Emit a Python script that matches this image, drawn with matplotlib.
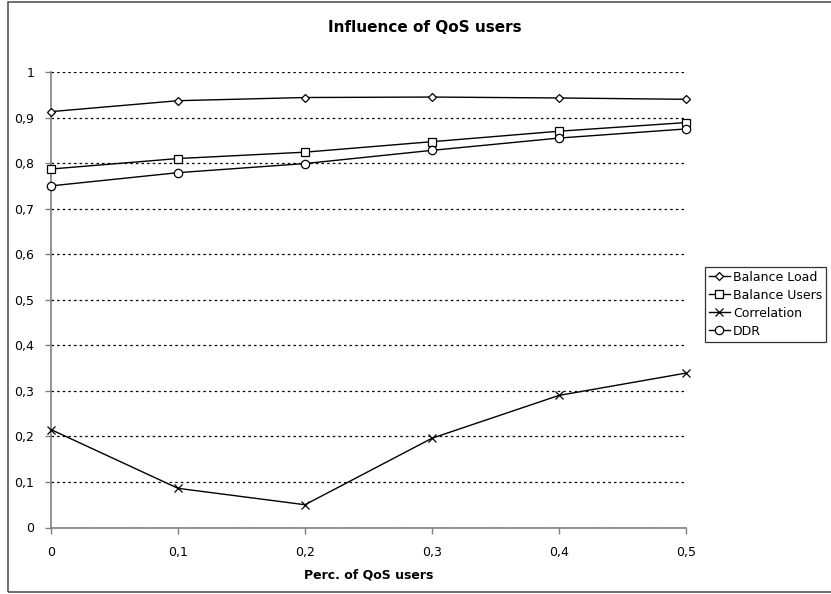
import matplotlib
matplotlib.use("Agg")
import matplotlib.pyplot as plt
from matplotlib.patches import Rectangle

qos_share = [0, 0.1, 0.2, 0.3, 0.4, 0.5]
balance_load = [0.913, 0.937, 0.944, 0.945, 0.943, 0.940]
balance_users = [0.787, 0.810, 0.824, 0.847, 0.870, 0.889]
correlation = [0.215, 0.086, 0.050, 0.196, 0.290, 0.339]
ddr = [0.750, 0.779, 0.799, 0.828, 0.855, 0.875]

series = [
    ("Balance Load", balance_load, "D", 4.5),
    ("Balance Users", balance_users, "s", 5.5),
    ("Correlation", correlation, "x", 5.5),
    ("DDR", ddr, "o", 6),
]

x_ticks = [0, 0.1, 0.2, 0.3, 0.4, 0.5]
y_ticks = [0, 0.1, 0.2, 0.3, 0.4, 0.5, 0.6, 0.7, 0.8, 0.9, 1.0]

def comma(v):
    s = f"{v:g}"
    return s.replace(".", ",")

plt.rcParams["font.family"] = "DejaVu Sans"
fig = plt.figure(figsize=(8.31, 5.94), dpi=100)
W, H = 831, 594

# chart frame
fig.patches.append(Rectangle((8 / W, 2 / H), 1.2, 1 - 4 / H, transform=fig.transFigure,
                             fill=False, edgecolor="#555555", linewidth=1.2))

ax = fig.add_axes([51 / W, 1 - 527.5 / H, (686 - 51) / W, (527.5 - 72) / H])
for name, vals, mk, ms in series:
    ax.plot(qos_share, vals, color="black", linewidth=1.0, marker=mk, markersize=ms,
            markerfacecolor="white", markeredgecolor="black", markeredgewidth=0.9,
            label=name, clip_on=False, zorder=3)

ax.set_xlim(0, 0.5)
ax.set_ylim(0, 1)
ax.set_xticks(x_ticks)
ax.set_xticklabels([comma(v) for v in x_ticks])
ax.set_yticks(y_ticks)
ax.set_yticklabels([comma(v) for v in y_ticks])
ax.tick_params(axis="both", labelsize=9, length=4, color="#808080", width=1)
ax.tick_params(axis="y", pad=8)
ax.tick_params(axis="x", pad=9)
ax.yaxis.grid(True, linestyle=(0, (2, 2.5)), color="black", linewidth=0.9)
ax.set_axisbelow(True)
for side in ("top", "right"):
    ax.spines[side].set_visible(False)
for side in ("left", "bottom"):
    ax.spines[side].set_color("#808080")
    ax.spines[side].set_linewidth(1.2)

ax.set_xlabel("Perc. of QoS users", fontsize=9, fontweight="bold", labelpad=7)
fig.text(425 / W, 1 - 27 / H, "Influence of QoS users", ha="center", va="center",
         fontsize=11, fontweight="bold")

leg = fig.legend(loc="upper left", bbox_to_anchor=(705 / W, 1 - 267 / H), fontsize=9,
                 frameon=True, fancybox=False, edgecolor="black", handlelength=1.7,
                 handletextpad=0.25, borderpad=0.3, labelspacing=0.4, borderaxespad=0)
leg.get_frame().set_linewidth(0.9)

fig.savefig("out.png", dpi=100)
